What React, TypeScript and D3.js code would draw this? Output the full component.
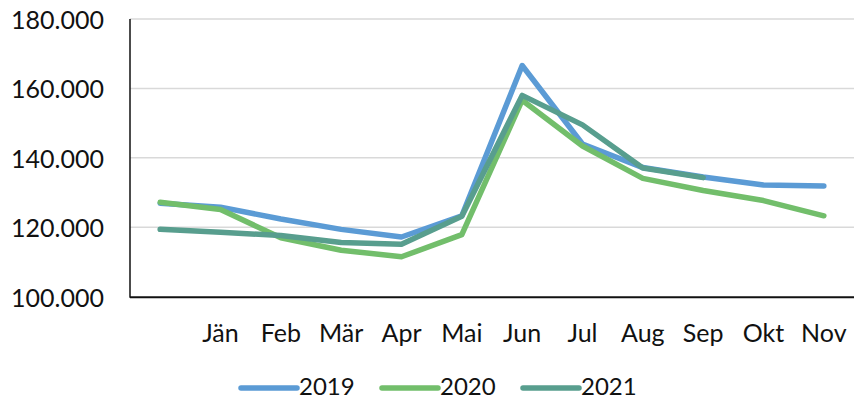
import React from "react";
import * as d3 from "d3";

const categories = ["", "Jän", "Feb", "Mär", "Apr", "Mai", "Jun", "Jul", "Aug", "Sep", "Okt", "Nov"];
const seriesNames = ["2019", "2020", "2021"];
const values2019 = [126900, 125800, 122400, 119400, 117200, 123300, 166600, 144000, 137200, 134500, 132200, 131900];
const values2020 = [127200, 125100, 117000, 113400, 111500, 117900, 156600, 143400, 134100, 130600, 127700, 123300];
const values2021: (number | null)[] = [119400, 118600, 117600, 115600, 115100, 123200, 158000, 149500, 137100, 134300, null, null];
const yTicks = [100000, 120000, 140000, 160000, 180000];
const colors = ["#5b9bd5", "#72be6b", "#589e8e"];

const W = 854;
const H = 400;
const FONT = "Lato, 'Open Sans', sans-serif";

export default function App() {
  const left = 130;
  const right = 854;
  const top = 19;
  const bottom = 296.7;

  const x = d3.scaleBand<string>().domain(categories.map((c, i) => String(i))).range([left, right]).padding(0);
  const y = d3.scaleLinear().domain([100000, 180000]).range([bottom, top]);
  const locale = d3.formatLocale({ decimal: ",", thousands: ".", grouping: [3], currency: ["", "€"] });
  const fmt = locale.format(",.0f");

  const all = [values2019, values2020, values2021];
  const line = d3
    .line<number | null>()
    .defined((d) => d != null)
    .x((_, i) => (x(String(i)) as number) + x.bandwidth() / 2)
    .y((d) => y(d as number));

  const legendItems = [
    { lx: 241, tx: 299 },
    { lx: 382, tx: 440 },
    { lx: 523, tx: 581 },
  ];

  return (
    <svg width={W} height={H} style={{ position: "absolute", left: 0, top: 0, background: "#fff" }}>
      <rect x={0} y={0} width={W} height={H} fill="#ffffff" />
      {yTicks.map((t) =>
        t === 100000 ? null : (
          <line key={"g" + t} x1={left} x2={right} y1={y(t)} y2={y(t)} stroke="#d9d9d9" strokeWidth={1.5} />
        )
      )}
      {yTicks.map((t) => (
        <text
          key={"t" + t}
          x={104}
          y={y(t)}
          textAnchor="end"
          dominantBaseline="central"
          fontFamily={FONT}
          fontSize={25}
          fill="#111"
        >
          {fmt(t)}
        </text>
      ))}
      <line x1={left} x2={left} y1={top} y2={bottom + 1} stroke="#111" strokeWidth={1.5} />
      <line x1={left} x2={right} y1={bottom + 0.5} y2={bottom + 0.5} stroke="#111" strokeWidth={2} />
      {categories.map((c, i) => (
        <text
          key={"c" + i}
          x={(x(String(i)) as number) + x.bandwidth() / 2}
          y={342}
          textAnchor="middle"
          fontFamily={FONT}
          fontSize={25}
          fill="#111"
        >
          {c}
        </text>
      ))}
      {all.map((vals, k) => (
        <path
          key={"s" + k}
          d={line(vals as (number | null)[]) || ""}
          fill="none"
          stroke={colors[k]}
          strokeWidth={5.5}
          strokeLinejoin="round"
          strokeLinecap="round"
        />
      ))}
      {seriesNames.map((n, k) => (
        <g key={"l" + k}>
          <line
            x1={legendItems[k].lx}
            x2={legendItems[k].lx + 56}
            y1={388}
            y2={388}
            stroke={colors[k]}
            strokeWidth={5.5}
            strokeLinecap="round"
          />
          <text x={legendItems[k].tx} y={395} fontFamily={FONT} fontSize={24} fill="#111">
            {n}
          </text>
        </g>
      ))}
    </svg>
  );
}
